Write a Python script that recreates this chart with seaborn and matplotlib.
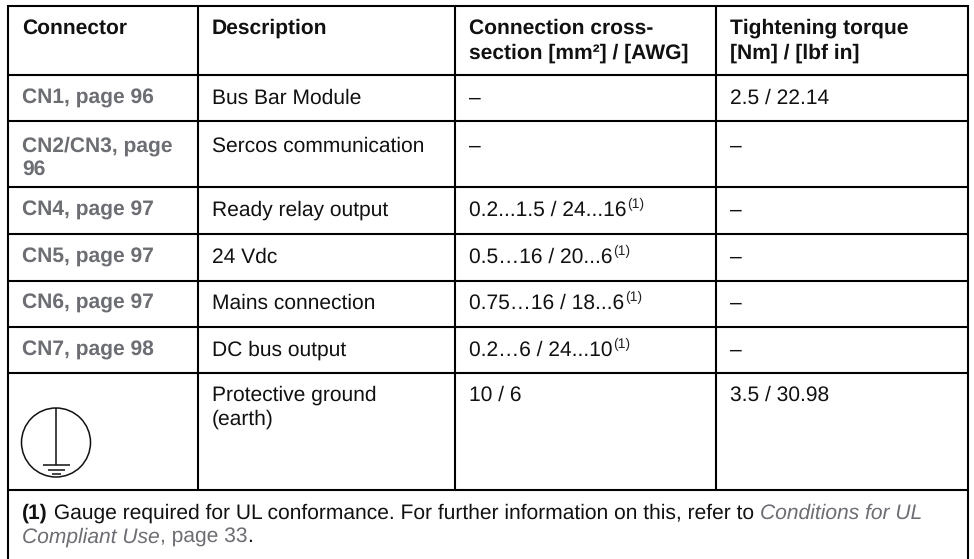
import matplotlib
matplotlib.use('Agg')
import matplotlib.pyplot as plt
from matplotlib.patches import Circle
import seaborn as sns

header = [['Connector'], ['Description'],
          ['Connection cross-', 'section [mm²] / [AWG]'],
          ['Tightening torque', '[Nm] / [lbf in]']]
connectors = [['CN1, page 96'], ['CN2/CN3, page', '96'], ['CN4, page 97'],
              ['CN5, page 97'], ['CN6, page 97'], ['CN7, page 98'], []]
descriptions = [['Bus Bar Module'], ['Sercos communication'], ['Ready relay output'],
                ['24 Vdc'], ['Mains connection'], ['DC bus output'],
                ['Protective ground', '(earth)']]
cross_sections = ['–', '–', '0.2...1.5 / 24...16', '0.5…16 / 20...6',
                  '0.75…16 / 18...6', '0.2…6 / 24...10', '10 / 6']
has_note = [False, False, True, True, True, True, False]
torques = ['2.5 / 22.14', '–', '–', '–', '–', '–', '3.5 / 30.98']
note_line1 = [('(1)', 'bold'), (' Gauge required for UL conformance. For further information on this, refer to ', 'plain'),
              ('Conditions for UL', 'link')]
note_line2 = [('Compliant Use', 'link'), (', page 33', 'grey'), ('.', 'plain')]

col_lines = [8, 197.5, 455, 716, 968]
row_lines = [5.5, 74.5, 121, 187, 233.5, 280.5, 326.5, 373, 490]
col_text = [22, 212, 469, 730]
baselines = [104, 151.5, 215.5, 262.5, 309, 355.5, 401]
line_gap = 23.5
link_grey = '#6c6e73'
font_size = 15.3

sns.set_theme(style='white')
plt.rcParams['font.family'] = ['Liberation Sans', 'DejaVu Sans']
plt.rcParams['text.hinting'] = 'none'
plt.rcParams['text.hinting_factor'] = 1

fig, ax = plt.subplots(figsize=(9.74, 5.59), dpi=100)
ax.set_position([0, 0, 1, 1])
ax.set_xlim(0, 974)
ax.set_ylim(559, 0)
ax.axis('off')

# table rules
lw = 1.5
ax.hlines(row_lines, col_lines[0], col_lines[-1], color='black', lw=lw)
ax.vlines(col_lines[1:-1], row_lines[0], row_lines[-1], color='black', lw=lw)
ax.vlines([col_lines[0], col_lines[-1]], 4.5, 559, color='black', lw=lw)


def put(x, y, s, **kw):
    kw.setdefault('fontsize', font_size)
    kw.setdefault('color', '#111111')
    return ax.text(x, y, s, va='baseline', ha='left', **kw)


def put_lines(x, y, lines, gap=line_gap, **kw):
    for i, s in enumerate(lines):
        put(x, y + i * gap, s, **kw)


def put_runs(x, y, runs):
    styles = {'bold': dict(fontweight='bold'),
              'plain': dict(),
              'link': dict(fontstyle='italic', color=link_grey),
              'grey': dict(color=link_grey)}
    r = fig.canvas.get_renderer()
    for s, style in runs:
        put(x, y, s, **styles[style])
        # bars stop the trailing spaces from being dropped in the measure
        probe = put(0, 0, '|' + s + '|', **styles[style])
        bar = put(0, 0, '||', **styles[style])
        x += probe.get_window_extent(r).width - bar.get_window_extent(r).width
        probe.remove()
        bar.remove()


for x, lines in zip(col_text, header):
    put_lines(x, 33.5, lines, gap=25, fontweight='bold')

r = fig.canvas.get_renderer()
for i, y in enumerate(baselines):
    put_lines(col_text[0], y, connectors[i], fontweight='bold', color=link_grey)
    put_lines(col_text[1], y, descriptions[i])
    t = put(col_text[2], y, cross_sections[i])
    if has_note[i]:
        end = t.get_window_extent(r).x1
        put(end + 0.5, y - 7.5, '(1)', fontsize=10.4, color='#222222')
    put(col_text[3], y, torques[i])

put_runs(col_text[0], 518.5, note_line1)
put_runs(col_text[0], 518.5 + line_gap + 0.5, note_line2)

# protective earth symbol
ax.add_patch(Circle((56, 442.5), 34.5, fill=False, ec='#111111', lw=1.1))
ax.vlines(56, 408, 465, color='#111111', lw=1.1)
ax.hlines([465, 469.5, 474], [43, 47.5, 51.5], [70, 65, 61], color='#111111', lw=1.1)

fig.savefig('out.png', dpi=100, facecolor='white')
